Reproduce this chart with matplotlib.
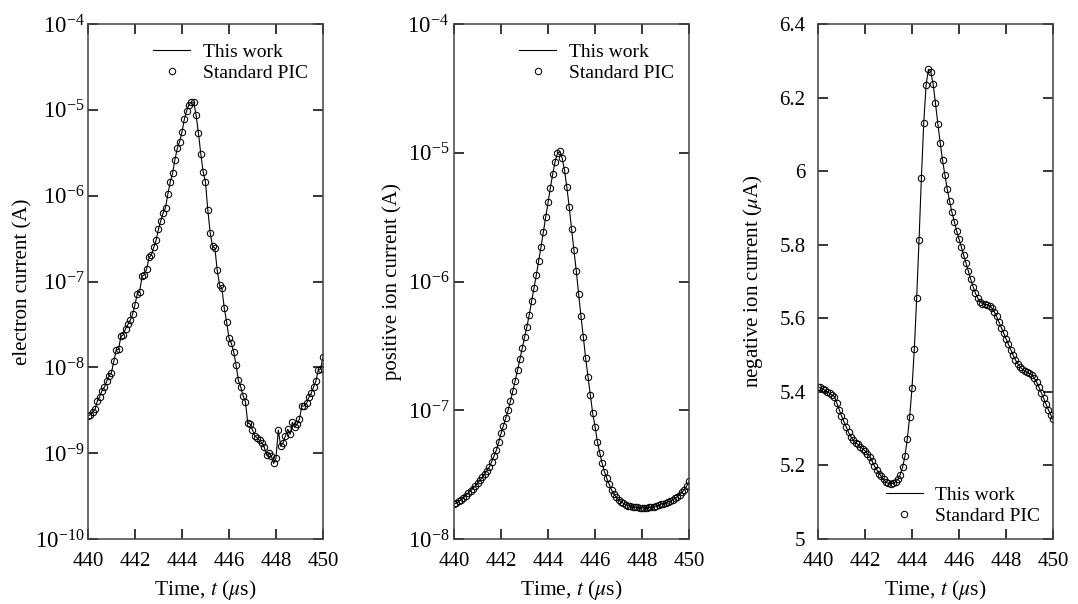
import matplotlib
matplotlib.use("Agg")
import matplotlib.pyplot as plt
import numpy as np
from matplotlib.ticker import LogLocator, NullLocator, MultipleLocator, FixedLocator

plt.rcParams["font.family"] = ["Liberation Serif", "DejaVu Serif"]
plt.rcParams["mathtext.fontset"] = "stix"

# sample times, 0.1 us apart (us)
time_us = np.linspace(440.0, 450.0, 101)

# electron current, log10 of amps
electron_log10 = [
    -8.567, -8.55, -8.52, -8.49, -8.39, -8.34, -8.27, -8.23, -8.16, -8.10,
    -8.06, -7.93, -7.80, -7.79, -7.64, -7.62, -7.55, -7.50, -7.45, -7.38,
    -7.27, -7.14, -7.12, -6.94, -6.92, -6.85, -6.72, -6.69, -6.60, -6.52,
    -6.39, -6.29, -6.20, -6.14, -5.98, -5.84, -5.74, -5.58, -5.45, -5.37,
    -5.26, -5.11, -5.01, -4.94, -4.91, -4.91, -5.06, -5.27, -5.51, -5.72,
    -5.84, -6.17, -6.43, -6.59, -6.61, -6.87, -7.04, -7.08, -7.31, -7.47,
    -7.66, -7.72, -7.82, -7.97, -8.15, -8.23, -8.33, -8.40, -8.65, -8.66,
    -8.73, -8.80, -8.82, -8.85, -8.88, -8.93, -9.02, -9.00, -9.03, -9.12,
    -9.06, -8.73, -8.92, -8.88, -8.80, -8.72, -8.78, -8.64, -8.70, -8.66,
    -8.60, -8.45, -8.45, -8.42, -8.35, -8.30, -8.23, -8.16, -8.03, -8.02,
    -7.88,
]

# positive ion current, log10 of amps
pos_ion_log10 = [
    -7.728, -7.72, -7.708, -7.695, -7.68, -7.663, -7.645, -7.627, -7.608, -7.588,
    -7.567, -7.545, -7.521, -7.495, -7.468, -7.44, -7.40, -7.357, -7.31, -7.247,
    -7.18, -7.12, -7.06, -7.00, -6.93, -6.85, -6.77, -6.69, -6.605, -6.52,
    -6.433, -6.351, -6.258, -6.154, -6.053, -5.950, -5.841, -5.730, -5.616, -5.499,
    -5.385, -5.271, -5.163, -5.069, -5.004, -4.99, -5.041, -5.134, -5.268, -5.421,
    -5.59, -5.755, -5.916, -6.095, -6.268, -6.429, -6.597, -6.739, -6.882, -7.024,
    -7.128, -7.244, -7.330, -7.412, -7.477, -7.529, -7.575, -7.619, -7.65, -7.675,
    -7.695, -7.71, -7.722, -7.732, -7.74, -7.746, -7.75, -7.753, -7.755, -7.757,
    -7.758, -7.758, -7.757, -7.755, -7.752, -7.748, -7.743, -7.737, -7.73, -7.725,
    -7.72, -7.713, -7.705, -7.695, -7.684, -7.671, -7.656, -7.638, -7.616, -7.588,
    -7.55,
]

# negative ion current (uA)
neg_ion_uA = [
    5.414, 5.412, 5.408, 5.404, 5.400, 5.396, 5.391, 5.387, 5.370, 5.352,
    5.335, 5.320, 5.305, 5.290, 5.278, 5.268, 5.262, 5.257, 5.251, 5.245,
    5.240, 5.232, 5.224, 5.212, 5.198, 5.188, 5.178, 5.170, 5.162, 5.154,
    5.151, 5.150, 5.152, 5.155, 5.162, 5.175, 5.195, 5.225, 5.272, 5.331,
    5.410, 5.517, 5.656, 5.813, 5.982, 6.131, 6.234, 6.277, 6.270, 6.237,
    6.184, 6.129, 6.077, 6.030, 5.990, 5.951, 5.919, 5.888, 5.863, 5.838,
    5.816, 5.794, 5.771, 5.750, 5.728, 5.706, 5.686, 5.668, 5.655, 5.645,
    5.640, 5.638, 5.637, 5.634, 5.628, 5.618, 5.605, 5.590, 5.575, 5.560,
    5.545, 5.530, 5.515, 5.500, 5.487, 5.477, 5.468, 5.461, 5.456, 5.453,
    5.450, 5.446, 5.438, 5.427, 5.413, 5.398, 5.383, 5.367, 5.352, 5.338,
    5.325,
]

neg_ticks = [5.0, 5.2, 5.4, 5.6, 5.8, 6.0, 6.2, 6.4]
neg_tick_labels = ["5", "5.2", "5.4", "5.6", "5.8", "6", "6.2", "6.4"]

electron_A = 10.0 ** np.array(electron_log10)
pos_ion_A = 10.0 ** np.array(pos_ion_log10)

xlabel = "Time, $t$ ($\\mu$s)"
tick_fs = 15
label_fs = 15
leg_fs = 14

fig = plt.figure(figsize=(10.78, 6.04), dpi=100)
lefts = [0.0816, 0.4212, 0.7588]
axes = [fig.add_axes([l, 0.1076, 0.218, 0.8526]) for l in lefts]


def style(ax, ypad):
    for sp in ax.spines.values():
        sp.set_linewidth(1.1)
        sp.set_color("#444444")
    ax.tick_params(which="major", direction="in", length=7, width=1.1,
                   top=True, right=True, labelsize=tick_fs)
    ax.tick_params(axis="x", pad=9.5)
    ax.tick_params(axis="y", pad=ypad)
    ax.tick_params(which="minor", length=0)
    ax.set_xlim(440, 450)
    ax.xaxis.set_major_locator(MultipleLocator(2))
    ax.xaxis.get_offset_text().set_visible(False)
    ax.yaxis.get_offset_text().set_visible(False)
    ax.set_xlabel(xlabel, fontsize=15.5, labelpad=5)


def draw(ax, y, legend_loc, anchor):
    ax.plot(time_us, y, color="black", lw=0.8, label="This work")
    ax.plot(time_us, y, ls="none", marker="o", ms=4.6, mfc="none",
            mec="black", mew=0.75, label="Standard PIC")
    ax.legend(loc=legend_loc, bbox_to_anchor=anchor, frameon=False,
              fontsize=leg_fs, handlelength=1.9, handletextpad=0.65,
              labelspacing=0.15, borderaxespad=0.2)


# electron
ax = axes[0]
draw(ax, electron_A, "upper right", (0.985, 0.985))
ax.set_yscale("log")
ax.set_ylim(1e-10, 1e-4)
ax.yaxis.set_major_locator(LogLocator(base=10, numticks=10))
ax.yaxis.set_minor_locator(NullLocator())
ax.set_ylabel("electron current (A)", fontsize=label_fs, labelpad=2)
style(ax, 2.5)
ax.tick_params(axis="y", labelsize=16.5)

# positive ion
ax = axes[1]
draw(ax, pos_ion_A, "upper right", (0.985, 0.985))
ax.set_yscale("log")
ax.set_ylim(1e-8, 1e-4)
ax.yaxis.set_major_locator(LogLocator(base=10, numticks=10))
ax.yaxis.set_minor_locator(NullLocator())
ax.set_ylabel("positive ion current (A)", fontsize=label_fs, labelpad=4)
style(ax, 3.5)
ax.tick_params(axis="y", labelsize=16.5)

# negative ion
ax = axes[2]
draw(ax, neg_ion_uA, "lower right", (0.995, 0.005))
ax.set_ylim(5.0, 6.4)
ax.yaxis.set_major_locator(FixedLocator(neg_ticks))
ax.set_yticklabels(neg_tick_labels)
ax.set_ylabel("negative ion current ($\\mu$A)", fontsize=label_fs, labelpad=10)
style(ax, 9)

fig.savefig("out.png", dpi=100)
